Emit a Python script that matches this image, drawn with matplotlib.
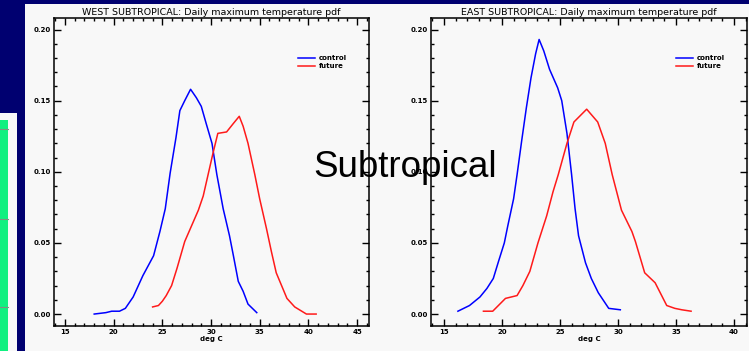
import matplotlib
matplotlib.use("Agg")
import matplotlib.pyplot as plt
from matplotlib.patches import Rectangle
from matplotlib.lines import Line2D
from matplotlib.ticker import MultipleLocator, FormatStrFormatter

# ---------------- data ----------------
west_control_x = [18.0, 19.2, 19.8, 20.6, 21.2, 22.0, 23.0, 24.1, 24.75, 25.3, 25.8, 26.4, 26.8, 27.3,
                  27.9, 28.5, 29.0, 29.5, 30.1, 30.6, 31.25, 31.9, 32.3, 32.8, 33.3, 33.8, 34.7]
west_control_y = [0.000, 0.001, 0.002, 0.002, 0.004, 0.012, 0.027, 0.041, 0.058, 0.074, 0.099, 0.124,
                  0.143, 0.150, 0.158, 0.152, 0.146, 0.134, 0.120, 0.098, 0.074, 0.055, 0.041, 0.023,
                  0.016, 0.007, 0.001]
west_future_x = [24.0, 24.6, 25.0, 25.4, 25.95, 26.5, 27.3, 28.0, 28.7, 29.2, 29.7, 30.2, 30.7, 31.6,
                 32.3, 32.9, 33.3, 33.8, 34.5, 35.0, 35.7, 36.2, 36.7, 37.8, 38.6, 39.8, 40.8]
west_future_y = [0.005, 0.006, 0.009, 0.013, 0.020, 0.032, 0.051, 0.062, 0.073, 0.083, 0.098, 0.113,
                 0.127, 0.128, 0.134, 0.139, 0.132, 0.120, 0.098, 0.081, 0.060, 0.044, 0.029, 0.011,
                 0.005, 0.000, 0.000]

east_control_x = [16.2, 17.2, 18.1, 18.7, 19.25, 19.7, 20.2, 20.5, 21.0, 21.3, 21.7, 22.1, 22.5, 22.9,
                  23.2, 23.6, 24.1, 24.8, 25.15, 25.6, 26.0, 26.3, 26.6, 27.2, 27.7, 28.3, 29.2, 30.2]
east_control_y = [0.002, 0.006, 0.012, 0.018, 0.025, 0.037, 0.050, 0.062, 0.081, 0.098, 0.122, 0.145,
                  0.166, 0.183, 0.193, 0.185, 0.172, 0.159, 0.150, 0.127, 0.098, 0.074, 0.055, 0.036,
                  0.025, 0.015, 0.004, 0.003]
east_future_x = [18.4, 19.2, 20.3, 21.3, 21.8, 22.4, 23.1, 23.85, 24.4, 24.85, 25.6, 26.2, 27.3, 28.25,
                 28.9, 29.5, 30.3, 31.2, 31.5, 32.3, 33.2, 34.2, 34.9, 35.5, 36.3]
east_future_y = [0.002, 0.002, 0.011, 0.013, 0.020, 0.030, 0.050, 0.069, 0.086, 0.098, 0.120, 0.135,
                 0.144, 0.135, 0.120, 0.098, 0.073, 0.058, 0.051, 0.029, 0.022, 0.006, 0.004, 0.003,
                 0.002]

titles = ["WEST SUBTROPICAL: Daily maximum temperature pdf",
          "EAST SUBTROPICAL: Daily maximum temperature pdf"]
series_labels = ["control", "future"]
x_label = "deg C"
slide_title = "Subtropical"

# ---------------- figure ----------------
W, H = 749, 351
fig = plt.figure(figsize=(W / 100, H / 100), dpi=100)
fig.patch.set_facecolor("#000070")

def px_rect(x0, y0, x1, y1, color):
    fig.patches.append(Rectangle((x0 / W, 1 - y1 / H), (x1 - x0) / W, (y1 - y0) / H,
                                 transform=fig.transFigure, facecolor=color,
                                 edgecolor="none", zorder=-5))

# main white panel
px_rect(25, 4, W, H, "#F8F8F8")
# partial panel at left edge
px_rect(0, 113, 16.5, H, "#F8F8F8")
px_rect(0, 120, 8, H, "#10F080")
for yy in [129, 219, 307]:
    fig.lines.append(Line2D([0, 8 / W], [1 - yy / H, 1 - yy / H], transform=fig.transFigure,
                            color="#809080", lw=0.8, zorder=-4))

def make_axes(x0, x1, y0, y1):
    ax = fig.add_axes([x0 / W, 1 - y1 / H, (x1 - x0) / W, (y1 - y0) / H])
    ax.set_facecolor("none")
    ax.set_zorder(1)
    return ax

axes = [make_axes(54, 369, 18, 326), make_axes(431, 747, 18, 326)]
xlims = [(13.87, 46.23), (13.88, 41.12)]
data = [((west_control_x, west_control_y), (west_future_x, west_future_y)),
        ((east_control_x, east_control_y), (east_future_x, east_future_y))]
legend_x = [(298 - 54) / 315, (676 - 431) / 316]

for i, ax in enumerate(axes):
    (cx, cy), (fx, fy) = data[i]
    ax.plot(cx, cy, color="#0000FF", lw=1.1, label=series_labels[0])
    ax.plot(fx, fy, color="#FF1A1A", lw=1.1, label=series_labels[1])
    ax.set_xlim(*xlims[i])
    ax.set_ylim(-0.0084, 0.2081)
    ax.xaxis.set_major_locator(MultipleLocator(5))
    ax.xaxis.set_minor_locator(MultipleLocator(1))
    ax.yaxis.set_major_locator(MultipleLocator(0.05))
    ax.yaxis.set_minor_locator(MultipleLocator(0.01))
    ax.yaxis.set_major_formatter(FormatStrFormatter("%.2f"))
    ax.tick_params(which="both", direction="in", top=True, right=True, colors="black",
                   labelsize=5, width=1.0, pad=2)
    ax.tick_params(which="major", length=5)
    ax.tick_params(which="minor", length=2.5)
    for lab in ax.get_xticklabels() + ax.get_yticklabels():
        lab.set_fontweight("bold")
    for s in ax.spines.values():
        s.set_linewidth(1.1)
        s.set_color("black")
    ax.set_title(titles[i], fontsize=6.8, pad=2.5, color="black")
    ax.set_xlabel(x_label, fontsize=5, labelpad=1, fontweight="bold")
    leg = ax.legend(loc="upper left", bbox_to_anchor=(legend_x[i], (326 - 55) / 308),
                    frameon=False, fontsize=5, handlelength=2.4, handletextpad=0.6,
                    borderpad=0, borderaxespad=0, labelspacing=0.35)
    for t in leg.get_texts():
        t.set_fontweight("bold")

fig.text(313 / W, 1 - 177 / H, slide_title, fontsize=26.5, family="Liberation Sans",
         color="black", va="baseline", ha="left", zorder=10)

fig.savefig("out.png", dpi=100, facecolor=fig.get_facecolor())
